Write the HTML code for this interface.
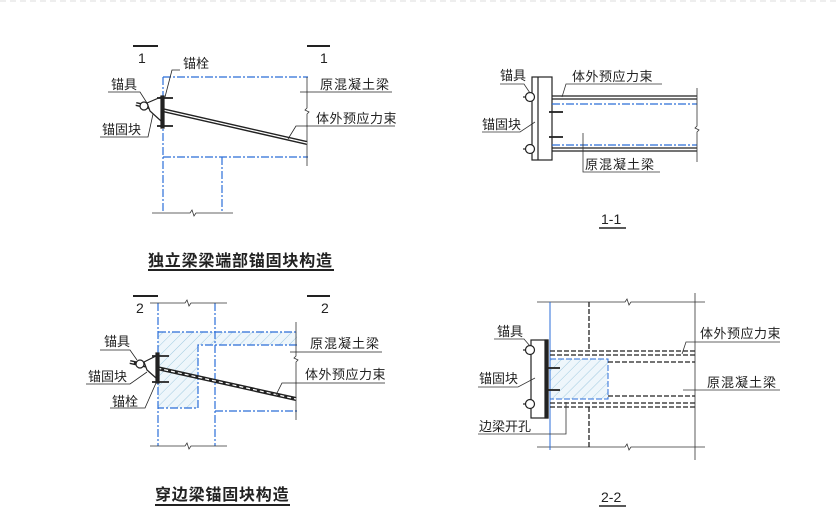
<!DOCTYPE html>
<html><head><meta charset="utf-8"><style>
html,body{margin:0;padding:0;background:#fff;}
svg{display:block;}
text{font-family:"Liberation Sans","Noto Sans CJK SC",sans-serif;fill:#222;}
</style></head><body>
<svg width="839" height="524" viewBox="0 0 839 524" xmlns="http://www.w3.org/2000/svg">
<defs>
<pattern id="h" width="7" height="7" patternUnits="userSpaceOnUse" patternTransform="rotate(45)">
<rect width="7" height="7" fill="#eef6fb"/><line x1="0" y1="0" x2="0" y2="7" stroke="#8cbfd8" stroke-width="0.8"/>
</pattern>
</defs>
<line x1="0" y1="1" x2="839" y2="1" stroke="#ddd" stroke-width="1" stroke-dasharray="6,4"/>

<!-- ===== Diagram 1 ===== -->
<g stroke="#222" stroke-width="1.5" fill="none">
<line x1="133" y1="46" x2="158" y2="46" stroke-width="2"/>
<line x1="307" y1="46" x2="330" y2="46" stroke-width="2"/>
</g>
<text x="138" y="63" font-size="14">1</text>
<text x="320" y="63" font-size="14">1</text>
<g stroke="#2b6ed8" stroke-width="1.2" fill="none" stroke-dasharray="8,2,2,2">
<line x1="163" y1="77" x2="308" y2="77"/>
<line x1="163" y1="77" x2="163" y2="213"/>
<line x1="163" y1="157" x2="308" y2="157"/>
<line x1="222" y1="157" x2="222" y2="213"/>
</g>
<g stroke="#333" stroke-width="0.8" fill="none">
<polyline points="152,213 190,213 192,210 194,216 196,213 233,213"/>
<polyline points="307,77 307,108 305,110 309,112 307,114 307,166"/>
</g>
<line x1="136" y1="104" x2="307" y2="143" stroke="#222" stroke-width="4"/>
<line x1="136" y1="104" x2="307" y2="143" stroke="#fff" stroke-width="1.2"/>
<g stroke="#222" fill="none" stroke-width="1.2">
<rect x="161" y="96" width="3" height="32" fill="#222"/>
<polygon points="147,103 161,97 161,121 150,111" fill="#fff"/>
<circle cx="144" cy="106" r="4" fill="#fff"/>
<line x1="157" y1="98" x2="173" y2="98" stroke-width="1.8"/>
<line x1="157" y1="126" x2="173" y2="126" stroke-width="1.8"/>
<polyline points="108,92 140,92 147,103" stroke-width="0.8"/>
<polyline points="100,137 148,137 153,114" stroke-width="0.8"/>
<polyline points="180,70 172,70 165,97" stroke-width="0.8"/>
<line x1="300" y1="92" x2="392" y2="92" stroke-width="0.8"/>
<polyline points="395,126 296,126 288,139" stroke-width="0.8"/>
</g>
<text x="183" y="68" font-size="13">锚栓</text>
<text x="111" y="89" font-size="13">锚具</text>
<text x="102" y="134" font-size="13">锚固块</text>
<text x="320" y="89" font-size="13" letter-spacing="1">原混凝土梁</text>
<text x="316" y="123" font-size="13" letter-spacing="0.5">体外预应力束</text>
<text x="148" y="266" font-size="16" font-weight="bold" letter-spacing="0.8">独立梁梁端部锚固块构造</text>
<line x1="148" y1="270" x2="334" y2="270" stroke="#222" stroke-width="2"/>

<!-- ===== Diagram 2 ===== -->
<g stroke="#222" stroke-width="2">
<line x1="133" y1="296" x2="158" y2="296"/>
<line x1="307" y1="296" x2="330" y2="296"/>
</g>
<text x="136" y="313" font-size="14">2</text>
<text x="321" y="313" font-size="14">2</text>
<polygon points="158,332 297,332 297,345 198,345 198,408 158,408" fill="url(#h)"/>
<g stroke="#2b6ed8" stroke-width="1.2" fill="none" stroke-dasharray="8,2,2,2">
<line x1="158" y1="303" x2="158" y2="446"/>
<line x1="215" y1="303" x2="215" y2="446"/>
<line x1="158" y1="332" x2="297" y2="332"/>
<polyline points="297,345 198,345 198,408 158,408"/>
<line x1="215" y1="411" x2="297" y2="411"/>
</g>
<g stroke="#333" stroke-width="0.8" fill="none">
<polyline points="150,303 185,303 187,300 189,306 191,303 227,303"/>
<polyline points="150,446 185,446 187,443 189,449 191,446 227,446"/>
<polyline points="296,322 296,356 294,358 298,360 296,362 296,420"/>
</g>
<line x1="130" y1="362" x2="296" y2="399" stroke="#222" stroke-width="4"/>
<line x1="130" y1="362" x2="296" y2="399" stroke="#fff" stroke-width="1.2" stroke-dasharray="4,3"/>
<g stroke="#222" fill="none" stroke-width="1.2">
<rect x="156" y="353" width="3" height="30" fill="#222"/>
<polygon points="144,362 156,356 156,378 147,370" fill="#fff"/>
<circle cx="140" cy="364" r="4" fill="#fff"/>
<line x1="152" y1="356" x2="169" y2="356" stroke-width="1.8"/>
<line x1="152" y1="382" x2="169" y2="382" stroke-width="1.8"/>
<polyline points="100,350 130,350 137,360" stroke-width="0.8"/>
<polyline points="86,384 130,384 147,372" stroke-width="0.8"/>
<polyline points="110,408 145,408 156,383" stroke-width="0.8"/>
<line x1="290" y1="352" x2="382" y2="352" stroke-width="0.8"/>
<polyline points="385,383 282,383 276,395" stroke-width="0.8"/>
</g>
<text x="104" y="346" font-size="13">锚具</text>
<text x="88" y="381" font-size="13">锚固块</text>
<text x="112" y="406" font-size="13">锚栓</text>
<text x="310" y="348" font-size="13" letter-spacing="1">原混凝土梁</text>
<text x="305" y="379" font-size="13" letter-spacing="0.5">体外预应力束</text>
<text x="155" y="500" font-size="16" font-weight="bold" letter-spacing="0.8">穿边梁锚固块构造</text>
<line x1="155" y1="505" x2="290" y2="505" stroke="#222" stroke-width="2"/>

<!-- ===== Diagram 3 ===== -->
<g stroke="#222" fill="none" stroke-width="1.2">
<rect x="532" y="77" width="20" height="83" fill="#fff"/>
<line x1="538" y1="77" x2="538" y2="160"/>
<line x1="552" y1="96" x2="697" y2="96"/>
<line x1="552" y1="99" x2="697" y2="99"/>
<line x1="552" y1="148" x2="697" y2="148"/>
<line x1="552" y1="151" x2="697" y2="151"/>
<line x1="549" y1="112" x2="563" y2="112" stroke-width="1.8"/>
<line x1="549" y1="137" x2="563" y2="137" stroke-width="1.8"/>
<circle cx="530" cy="97" r="4.5" fill="#fff"/>
<circle cx="530" cy="149" r="4.5" fill="#fff"/>
<line x1="523" y1="97" x2="526" y2="97"/>
<line x1="523" y1="149" x2="526" y2="149"/>
</g>
<g stroke="#2b6ed8" stroke-width="1.2" stroke-dasharray="8,2,2,2">
<line x1="552" y1="104" x2="697" y2="104"/>
<line x1="552" y1="145" x2="697" y2="145"/>
</g>
<g stroke="#333" stroke-width="0.8" fill="none">
<polyline points="697,88 697,126 695,128 699,130 697,132 697,162"/>
<polyline points="500,84 524,84 530,93"/>
<polyline points="482,132 520,132 535,122"/>
<polyline points="662,84 566,84 562,97"/>
<polyline points="660,172 583,172 583,133"/>
</g>
<text x="500" y="80" font-size="13">锚具</text>
<text x="482" y="129" font-size="13">锚固块</text>
<text x="572" y="81" font-size="13" letter-spacing="0.5">体外预应力束</text>
<text x="585" y="169" font-size="13" letter-spacing="1">原混凝土梁</text>
<text x="601" y="224" font-size="14">1-1</text>
<line x1="599" y1="228" x2="626" y2="228" stroke="#222" stroke-width="1.5"/>

<!-- ===== Diagram 4 ===== -->
<rect x="550" y="359" width="58" height="40" fill="url(#h)" stroke="#2b6ed8" stroke-width="1" stroke-dasharray="6,2"/>
<g stroke="#333" stroke-width="0.8" fill="none">
<polyline points="537,302 625,302 627,299 629,305 631,302 705,302"/>
<polyline points="537,447 625,447 627,444 629,450 631,447 705,447"/>
<line x1="695" y1="293" x2="695" y2="460"/>
</g>
<line x1="550" y1="302" x2="550" y2="450" stroke="#2b6ed8" stroke-width="1"/>
<g stroke="#222" stroke-width="1.3" stroke-dasharray="5,2" fill="none">
<line x1="589" y1="302" x2="589" y2="351"/>
<line x1="589" y1="407" x2="589" y2="447"/>
<line x1="550" y1="351" x2="695" y2="351"/>
<line x1="550" y1="355" x2="695" y2="355"/>
<line x1="550" y1="403" x2="695" y2="403"/>
<line x1="550" y1="407" x2="695" y2="407"/>
<line x1="608" y1="362" x2="695" y2="362"/>
<line x1="608" y1="396" x2="695" y2="396"/>
</g>
<g stroke="#222" fill="none" stroke-width="1.2">
<rect x="531" y="340" width="17" height="78" fill="#fff"/>
<rect x="545" y="340" width="3" height="78" fill="#222"/>
<line x1="546" y1="368" x2="560" y2="368" stroke-width="1.8"/>
<line x1="546" y1="390" x2="560" y2="390" stroke-width="1.8"/>
<circle cx="530" cy="350" r="4.5" fill="#fff"/>
<circle cx="530" cy="404" r="4.5" fill="#fff"/>
<line x1="523" y1="350" x2="526" y2="350"/>
<line x1="523" y1="404" x2="526" y2="404"/>
</g>
<g stroke="#333" stroke-width="0.8" fill="none">
<polyline points="494,339 524,339 530,346"/>
<polyline points="478,387 518,387 535,378"/>
<polyline points="478,434 566,434 566,402"/>
<polyline points="780,342 686,342 682,354"/>
<line x1="683" y1="390" x2="780" y2="390"/>
</g>
<text x="497" y="336" font-size="13">锚具</text>
<text x="479" y="383" font-size="13">锚固块</text>
<text x="479" y="431" font-size="13">边梁开孔</text>
<text x="700" y="338" font-size="13" letter-spacing="0.5">体外预应力束</text>
<text x="707" y="387" font-size="13" letter-spacing="1">原混凝土梁</text>
<text x="601" y="502" font-size="14">2-2</text>
<line x1="599" y1="506" x2="626" y2="506" stroke="#222" stroke-width="1.5"/>
</svg>
</body></html>
